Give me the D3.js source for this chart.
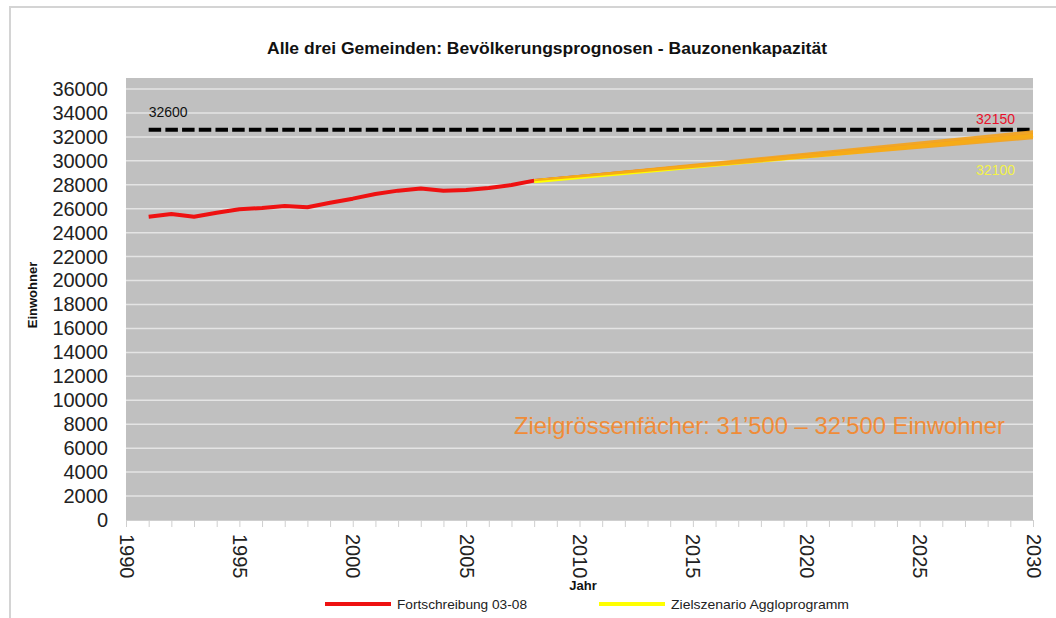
<!DOCTYPE html>
<html><head><meta charset="utf-8">
<script src="https://cdn.jsdelivr.net/npm/d3@7"></script>
<style>body{margin:0;background:#fff;}svg{display:block;font-family:"Liberation Sans",Arial,sans-serif;}</style>
</head><body><svg id="c" width="1056" height="618"></svg>
<script>
const histYears = [1991,1992,1993,1994,1995,1996,1997,1998,1999,2000,2001,2002,2003,2004,2005,2006,2007,2008];
const fortValues = [25330,25550,25330,25670,25950,26060,26230,26120,26500,26840,27230,27510,27680,27510,27560,27730,27980,28350];
const projYears = [2008,2030];
const fortProj = [28350,32150];
const zielValues = [28300,32100];
const fanYears = [2008,2030];
const fanLow = [28300,31800];
const fanHigh = [28450,32550];
const capYears = [1991,2030];
const capValue = 32600;
const yTicks = [0,2000,4000,6000,8000,10000,12000,14000,16000,18000,20000,22000,24000,26000,28000,30000,32000,34000,36000];
const xTicks = [1990,1995,2000,2005,2010,2015,2020,2025,2030];

const svg = d3.select("#c");
const L=126, R=1033, T=89, B=520;
const x = d3.scaleLinear().domain([1990,2030]).range([L,R]);
const y = d3.scaleLinear().domain([0,36000]).range([B,T]);

svg.append("rect").attr("x",10).attr("y",7).attr("width",1100).attr("height",700)
  .attr("fill","none").attr("stroke","#d4d4d4").attr("stroke-width",2);

svg.append("text").attr("x",547).attr("y",54).attr("text-anchor","middle")
  .attr("font-size",16.5).attr("font-weight","bold").attr("fill","#111")
  .attr("textLength",560).attr("lengthAdjust","spacingAndGlyphs")
  .text("Alle drei Gemeinden: Bevölkerungsprognosen - Bauzonenkapazität");

svg.append("rect").attr("x",L).attr("y",78).attr("width",R-L).attr("height",B-78).attr("fill","#c0c0c0");

svg.append("g").selectAll("line").data(yTicks.filter(d=>d>0)).join("line")
  .attr("x1",L).attr("x2",R).attr("y1",d=>y(d)).attr("y2",d=>y(d))
  .attr("stroke","#e4e4e4").attr("stroke-width",1.5);

const ya = svg.append("g").attr("transform",`translate(${L},0)`)
  .call(d3.axisLeft(y).tickValues(yTicks).tickSize(0).tickPadding(18).tickFormat(d3.format("d")));
ya.select(".domain").remove();
ya.selectAll("text").attr("font-size",20).attr("fill","#222").attr("font-family","Liberation Sans, Arial, sans-serif");

const minor = d3.range(1990,2031);
const xa = svg.append("g").attr("transform",`translate(0,${B})`)
  .call(d3.axisBottom(x).tickValues(minor).tickSize(7).tickFormat(""));
xa.select(".domain").attr("stroke","#cfcfcf");
xa.selectAll(".tick line").attr("stroke","#cfcfcf");
const xl = svg.append("g").attr("transform",`translate(0,${B})`)
  .call(d3.axisBottom(x).tickValues(xTicks).tickSize(0).tickFormat(d3.format("d")));
xl.select(".domain").remove();
xl.selectAll("text").attr("font-size",20).attr("fill","#222").attr("font-family","Liberation Sans, Arial, sans-serif")
  .attr("text-anchor","start").attr("dy",0).attr("y",0)
  .attr("transform","translate(-7,14) rotate(90)");

svg.append("text").attr("x",583).attr("y",590).attr("text-anchor","middle")
  .attr("font-size",13).attr("font-weight","bold").attr("fill","#111").text("Jahr");
svg.append("text").attr("transform","translate(37,295) rotate(-90)").attr("text-anchor","middle")
  .attr("font-size",13).attr("font-weight","bold").attr("fill","#111").text("Einwohner");

svg.append("line").attr("x1",x(capYears[0])).attr("x2",x(capYears[1]))
  .attr("y1",y(capValue)).attr("y2",y(capValue))
  .attr("stroke","#000").attr("stroke-width",4).attr("stroke-dasharray","12.5,4.2");
svg.append("text").attr("x",x(1991)).attr("y",y(capValue)-13).attr("font-size",14).attr("fill","#111").text("32600");

const line = d3.line().x(d=>x(d[0])).y(d=>y(d[1]));

svg.append("path").datum(histYears.map((d,i)=>[d,fortValues[i]]))
  .attr("d",line).attr("fill","none").attr("stroke","#ee1111").attr("stroke-width",4).attr("stroke-linejoin","round");
svg.append("path").datum(projYears.map((d,i)=>[d,fortProj[i]]))
  .attr("d",line).attr("fill","none").attr("stroke","#e63a10").attr("stroke-width",3);
svg.append("path").datum(projYears.map((d,i)=>[d,zielValues[i]]))
  .attr("d",line).attr("fill","none").attr("stroke","#ffff00").attr("stroke-width",4);
const area = d3.area().x(d=>x(d[0])).y0(d=>y(d[1])).y1(d=>y(d[2]));
svg.append("path").datum(fanYears.map((d,i)=>[d,fanLow[i],fanHigh[i]]))
  .attr("d",area).attr("fill","#f5a21a").attr("fill-opacity",0.9);

svg.append("text").attr("x",1015).attr("y",124).attr("text-anchor","end").attr("font-size",14).attr("fill","#e8112a").text("32150");
svg.append("text").attr("x",1015).attr("y",175).attr("text-anchor","end").attr("font-size",14).attr("fill","#f2f24a").text("32100");

svg.append("text").attr("x",514).attr("y",434).attr("font-size",24).attr("fill","#f08c38")
  .attr("textLength",491).attr("lengthAdjust","spacingAndGlyphs")
  .text("Zielgrössenfächer: 31’500 – 32’500 Einwohner");

const lg = [{n:"Fortschreibung 03-08",c:"#ee1111",x:325,w:130},{n:"Zielszenario Aggloprogramm",c:"#ffff00",x:599,w:178}];
const g = svg.append("g").selectAll("g").data(lg).join("g").attr("transform",d=>`translate(${d.x},604)`);
g.append("line").attr("x1",0).attr("x2",66).attr("stroke",d=>d.c).attr("stroke-width",4);
g.append("text").attr("x",72).attr("y",5).attr("font-size",13.5).attr("fill","#222")
  .attr("textLength",d=>d.w).attr("lengthAdjust","spacingAndGlyphs").text(d=>d.n);
</script></body></html>
